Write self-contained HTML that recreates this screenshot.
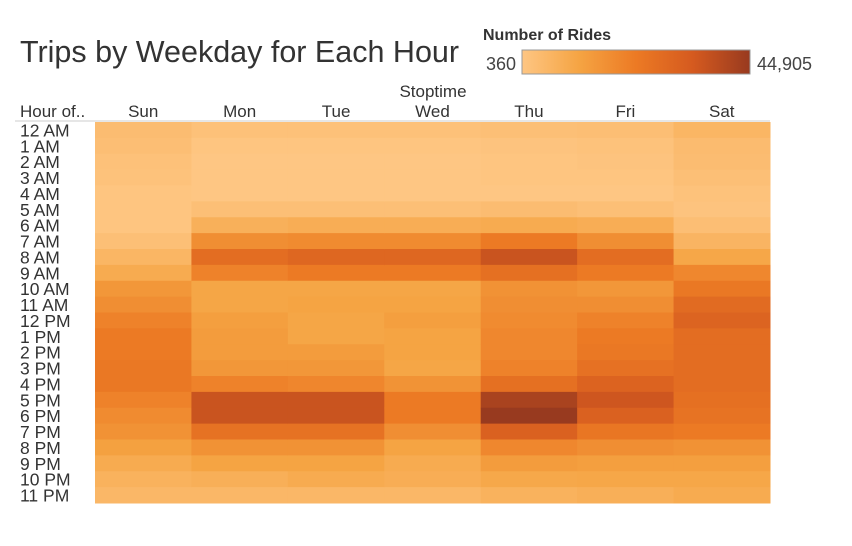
<!DOCTYPE html>
<html><head><meta charset="utf-8"><style>
body{margin:0;background:#fff;width:852px;height:541px;overflow:hidden;font-family:"Liberation Sans",sans-serif;}
svg text{font-family:"Liberation Sans",sans-serif;}
</style></head><body>
<svg id="c" width="852" height="541">
<defs><linearGradient id="lg" x1="0" x2="1">
<stop offset="0" stop-color="#fec683"/><stop offset="0.25" stop-color="#f5a443"/><stop offset="0.5" stop-color="#ec7a24"/><stop offset="0.75" stop-color="#d55a1f"/><stop offset="1" stop-color="#983a1f"/></linearGradient></defs>
<text x="20" y="62" font-size="30.5" fill="#333">Trips by Weekday for Each Hour</text>
<text x="483" y="40" font-size="16" font-weight="bold" fill="#333">Number of Rides</text>
<rect x="522" y="50" width="228" height="24" fill="url(#lg)" stroke="#999"/>
<text x="486" y="70" font-size="18" fill="#444">360</text>
<text x="757" y="70" font-size="18" fill="#444">44,905</text>
<text x="433" y="97" font-size="17" text-anchor="middle" fill="#333">Stoptime</text>
<text x="20" y="117" font-size="17" fill="#333">Hour of..</text>
<line x1="15" y1="121" x2="770" y2="121" stroke="#ccc"/>
<g id="cells"></g><g id="labels"></g>
</svg>
<script>
const days=["Sun","Mon","Tue","Wed","Thu","Fri","Sat"];
const hours=["12 AM","1 AM","2 AM","3 AM","4 AM","5 AM","6 AM","7 AM","8 AM","9 AM","10 AM","11 AM","12 PM","1 PM","2 PM","3 PM","4 PM","5 PM","6 PM","7 PM","8 PM","9 PM","10 PM","11 PM"];
const sun=[3500,3000,2150,1700,800,800,800,2600,5700,9300,15000,17300,20400,22600,22600,23500,23500,20400,18200,16400,12400,9300,7000,5300];
const mon=[2150,800,360,360,360,2600,7500,17300,27100,20400,11000,11000,12800,13700,13700,15000,20400,36000,36000,25300,16400,11500,7900,5300];
const tue=[2150,800,360,360,360,2600,8400,18200,29300,22600,11000,11500,11000,11000,13700,15000,19500,36000,36000,25300,16400,11500,9300,5300];
const wed=[2150,800,360,360,360,2600,8400,18200,29300,22600,11000,11500,12800,11500,11500,11000,16000,22600,22600,17300,11500,9300,8400,5300];
const thu=[2600,1250,800,800,360,3500,9300,22600,36000,26200,16400,17300,18200,19100,19100,20400,26200,41800,44905,31500,19100,13700,10200,7000];
const fri=[3000,1700,1250,800,360,2600,8400,17300,27100,22600,15000,17300,20400,22600,23500,25700,30600,35100,31500,24000,17300,12800,10600,7900];
const sat=[5700,3900,3500,2600,1700,1250,3000,6100,10600,19100,23500,28000,30200,27100,27100,27100,27100,26200,24900,22600,16400,12800,10600,9300];
const series=[sun,mon,tue,wed,thu,fri,sat];
const vmin=360,vmax=44905;
const stops=[[0,[254,198,131]],[0.25,[245,164,67]],[0.5,[236,122,36]],[0.75,[213,90,31]],[1,[152,58,31]]];
function color(v){let t=(v-vmin)/(vmax-vmin);t=Math.max(0,Math.min(1,t));
for(let i=1;i<stops.length;i++){if(t<=stops[i][0]){const a=stops[i-1],b=stops[i];const f=(t-a[0])/(b[0]-a[0]);
return 'rgb('+a[1].map((c,k)=>Math.round(c+(b[1][k]-c)*f)).join(',')+')';}}return 'rgb(152,58,31)';}
const x0=95,x1=770,y0=122,y1=503;
const cw=(x1-x0)/days.length,rh=(y1-y0)/hours.length;
const xs=i=>x0+i*cw, ys=j=>y0+j*rh;
const NS="http://www.w3.org/2000/svg";
const cells=document.getElementById('cells'),labels=document.getElementById('labels');
days.forEach((d,i)=>{
 const t=document.createElementNS(NS,'text');
 t.setAttribute('x',xs(i)+cw/2);t.setAttribute('y',117);t.setAttribute('font-size','17');t.setAttribute('text-anchor','middle');t.setAttribute('fill','#333');t.textContent=d;
 
 
 labels.appendChild(t);
 series[i].forEach((v,j)=>{
  const r=document.createElementNS(NS,'rect');
  r.setAttribute('x',xs(i));r.setAttribute('y',ys(j));r.setAttribute('width',cw+0.5);r.setAttribute('height',rh+0.5);r.setAttribute('fill',color(v));
  
  
  cells.appendChild(r);
 });
});
hours.forEach((h,j)=>{
 const t=document.createElementNS(NS,'text');
 t.setAttribute('x',20);t.setAttribute('y',ys(j)+rh-1.5);t.setAttribute('font-size','17.5');t.setAttribute('fill','#333');t.textContent=h;
 
 
 labels.appendChild(t);
});
</script>
</body></html>
